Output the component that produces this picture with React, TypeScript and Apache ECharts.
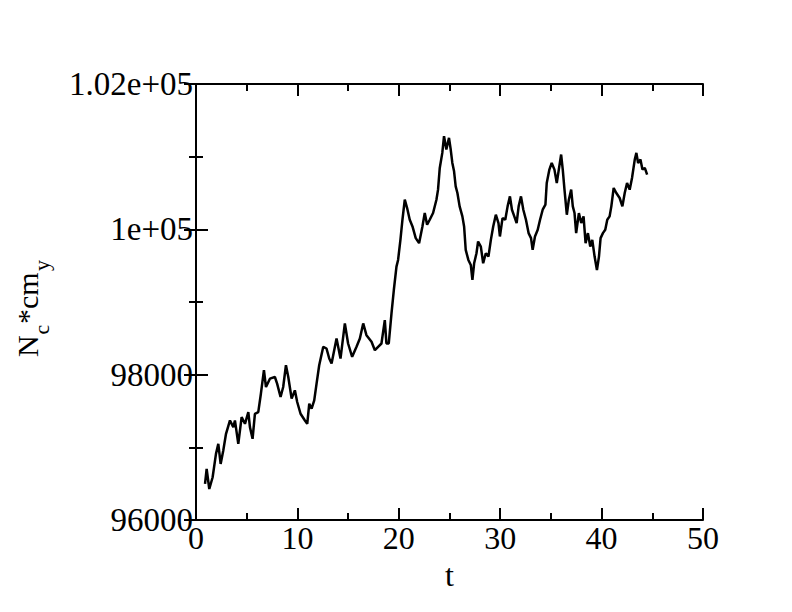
import React, { useEffect, useRef } from "react";
import * as echarts from "echarts";

const tValues: number[] = [
  0.89, 1.05, 1.31, 1.64, 1.97, 2.2, 2.43, 2.69, 2.96, 3.35, 3.68, 3.84, 4.17, 4.5, 4.83,
  5.16, 5.32, 5.58, 5.81, 6.14, 6.4, 6.7, 6.9, 7.29, 7.78, 8.0, 8.34, 8.6, 8.87, 9.1,
  9.43, 9.75, 9.98, 10.31, 10.74, 10.97, 11.17, 11.4, 11.66, 11.89, 12.15, 12.55, 12.87,
  13.14, 13.37, 13.86, 14.25, 14.68, 15.0, 15.4, 15.83, 16.16, 16.49, 16.81, 17.31, 17.64,
  17.96, 18.29, 18.62, 18.78, 19.01, 19.28, 19.51, 19.77, 19.93, 20.16, 20.36, 20.59,
  20.82, 21.08, 21.35, 21.67, 22.0, 22.33, 22.56, 22.79, 23.05, 23.38, 23.71, 23.87,
  24.04, 24.29, 24.46, 24.69, 24.95, 25.12, 25.28, 25.45, 25.61, 25.78, 26.0, 26.27,
  26.44, 26.6, 26.86, 27.1, 27.26, 27.43, 27.66, 27.82, 28.09, 28.32, 28.58, 28.84,
  29.08, 29.31, 29.57, 29.83, 29.97, 30.23, 30.5, 30.73, 30.96, 31.16, 31.39, 31.62,
  31.82, 32.05, 32.28, 32.54, 32.8, 33.04, 33.2, 33.43, 33.7, 33.93, 34.19, 34.46,
  34.59, 34.85, 35.08, 35.35, 35.58, 35.78, 36.01, 36.17, 36.34, 36.57, 36.77, 37.0,
  37.16, 37.33, 37.49, 37.76, 37.99, 38.22, 38.42, 38.65, 38.88, 39.08, 39.31, 39.54,
  39.74, 39.9, 40.13, 40.36, 40.56, 40.79, 40.96, 41.19, 41.45, 41.78, 42.05, 42.28,
  42.51, 42.77, 43.0, 43.27, 43.43, 43.6, 43.83, 44.03, 44.26, 44.49,
];

const ncCmY: number[] = [
  96496, 96703, 96427, 96588, 96910, 97048, 96772, 96956, 97186, 97370, 97278, 97370, 97048,
  97416, 97324, 97485, 97278, 97117, 97462, 97485, 97738, 98061, 97830, 97945, 97968, 97876,
  97692, 97830, 98130, 97968, 97670, 97784, 97624, 97462, 97370, 97324, 97600, 97531, 97647,
  97876, 98130, 98383, 98360, 98222, 98153, 98498, 98222, 98705, 98429, 98245, 98383, 98498,
  98705, 98544, 98452, 98337, 98383, 98429, 98751, 98429, 98429, 98843, 99165, 99487, 99579,
  99855, 100132, 100408, 100293, 100132, 100040, 99879, 99810, 100040, 100224, 100063,
  100132, 100224, 100408, 100546, 100845, 101052, 101282, 101098, 101259, 101098, 100914,
  100799, 100592, 100500, 100316, 100178, 100040, 99717, 99579, 99510, 99303, 99533, 99671,
  99832, 99763, 99533, 99671, 99625, 99855, 100040, 100201, 100086, 99902, 100155, 100132,
  100316, 100454, 100270, 100178, 100086, 100316, 100454, 100270, 100132, 99948, 99879,
  99717, 99902, 99994, 100132, 100270, 100339, 100638, 100822, 100914, 100822, 100638,
  100822, 101029, 100822, 100546, 100201, 100408, 100546, 100316, 100224, 99948, 100224,
  100086, 100178, 99810, 99948, 99763, 99855, 99625, 99441, 99625, 99879, 99948, 99994,
  100132, 100178, 100316, 100569, 100500, 100431, 100316, 100500, 100638, 100546, 100707,
  100960, 101052, 100914, 100960, 100822, 100845, 100753,
];

const yTickLabels: Record<number, string> = {
  96000: "96000",
  98000: "98000",
  100000: "1e+05",
  102000: "1.02e+05",
};

const FONT = "'Liberation Serif', 'Times New Roman', serif";

export default function App() {
  const ref = useRef<HTMLDivElement>(null);

  useEffect(() => {
    if (!ref.current) return;
    const chart = echarts.init(ref.current, undefined, { renderer: "svg" });
    const data = tValues.map((t, i) => [t, ncCmY[i]]);

    const axisLine = { show: true, lineStyle: { color: "#000", width: 2 } };
    const tick = { show: true, inside: true, length: 12, lineStyle: { color: "#000", width: 2 } };
    const minor = { show: true, splitNumber: 2, length: 7, lineStyle: { color: "#000", width: 2 } };

    chart.setOption({
      animation: false,
      backgroundColor: "#fff",
      grid: { left: 196, top: 84, right: 89, bottom: 92, containLabel: false },
      xAxis: [
        {
          type: "value",
          min: 0,
          max: 50,
          interval: 10,
          position: "bottom",
          axisLine,
          axisTick: tick,
          minorTick: minor,
          splitLine: { show: false },
          axisLabel: { color: "#000", fontFamily: FONT, fontSize: 32, margin: 2 },
          name: "t",
          nameLocation: "middle",
          nameGap: 36,
          nameTextStyle: { color: "#000", fontFamily: FONT, fontSize: 32 },
        },
        {
          type: "value",
          min: 0,
          max: 50,
          interval: 10,
          position: "top",
          axisLine,
          axisTick: tick,
          minorTick: minor,
          splitLine: { show: false },
          axisLabel: { show: false },
        },
      ],
      yAxis: [
        {
          type: "value",
          min: 96000,
          max: 102000,
          interval: 2000,
          position: "left",
          axisLine,
          axisTick: tick,
          minorTick: minor,
          splitLine: { show: false },
          axisLabel: {
            color: "#000",
            fontFamily: FONT,
            fontSize: 33,
            margin: 3,
            formatter: (v: number) => yTickLabels[v] ?? String(v),
          },
        },
        {
          type: "value",
          min: 96000,
          max: 102000,
          interval: 2000,
          position: "right",
          axisLine,
          axisTick: tick,
          minorTick: minor,
          splitLine: { show: false },
          axisLabel: { show: false },
        },
      ],
      series: [
        {
          type: "line",
          data,
          showSymbol: false,
          symbol: "none",
          lineStyle: { color: "#000", width: 2.5 },
          xAxisIndex: 0,
          yAxisIndex: 0,
        },
      ],
      graphic: [
        {
          type: "group",
          x: 27,
          y: 357,
          rotation: Math.PI / 2,
          children: [
            {
              type: "text",
              x: 0,
              y: 0,
              style: { text: "N", fill: "#000", font: `30px ${FONT}`, textAlign: "left", textVerticalAlign: "middle", verticalAlign: "middle" },
            },
            {
              type: "text",
              x: 22.5,
              y: 14,
              style: { text: "c", fill: "#000", font: `22px ${FONT}`, textAlign: "left", textVerticalAlign: "middle", verticalAlign: "middle" },
            },
            {
              type: "text",
              x: 33,
              y: 0,
              style: { text: "*cm", fill: "#000", font: `30px ${FONT}`, textAlign: "left", textVerticalAlign: "middle", verticalAlign: "middle" },
            },
            {
              type: "text",
              x: 86,
              y: 14,
              style: { text: "y", fill: "#000", font: `22px ${FONT}`, textAlign: "left", textVerticalAlign: "middle", verticalAlign: "middle" },
            },
          ],
        },
      ],
    });

    return () => chart.dispose();
  }, []);

  return <div ref={ref} style={{ width: 792, height: 612, margin: -8 }} />;
}
